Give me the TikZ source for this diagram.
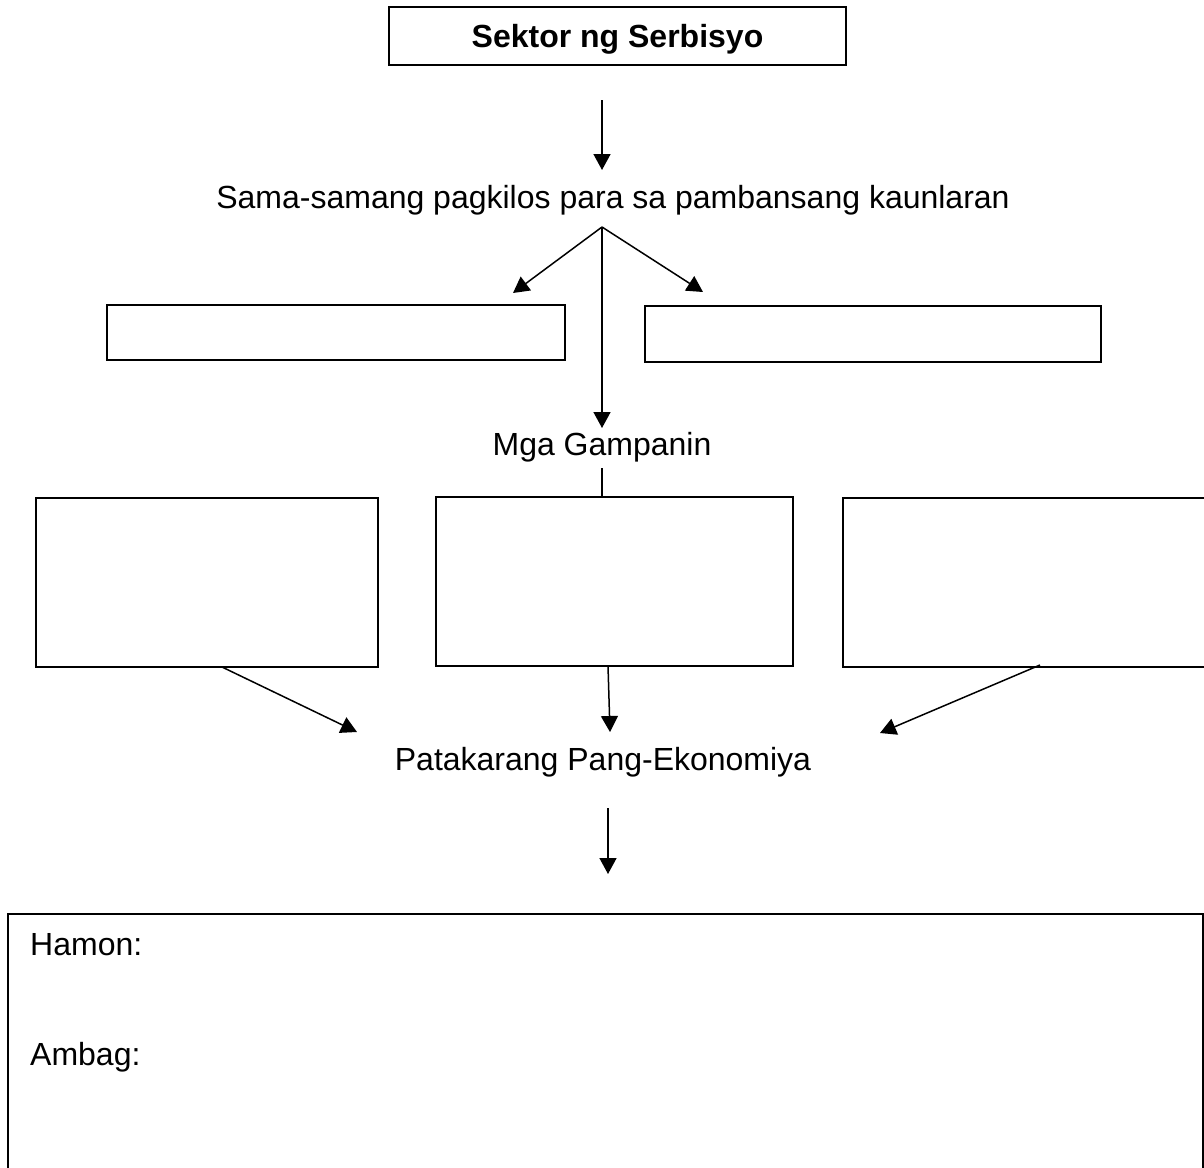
\documentclass[tikz,border=0pt]{standalone}
\usepackage{fontspec}
\setmainfont{Liberation Sans}
\usetikzlibrary{arrows.meta, positioning}

\begin{document}
\begin{tikzpicture}[x=1pt, y=-1pt,
    box/.style={draw, line width=1.5pt, inner sep=0pt},
    txt/.style={font=\fontsize{32}{38}\selectfont, inner sep=0pt},
    arr/.style={line width=1.5pt, -{Triangle[length=16pt, width=17pt]}}]
    \clip (0,0) rectangle (1204,1167);
    \fill[white] (0,0) rectangle (1204,1167);
    % pamagat
    \node[box, minimum width=457pt, minimum height=58pt, text height=23pt, text depth=0pt,
          font=\bfseries\fontsize{32}{38}\selectfont] (sektor) at (617.5,36) {Sektor ng Serbisyo};
    \coordinate (a1) at (602,100);
    \coordinate (a2) at (602,170);
    \node[txt, anchor=base] (sama) at (613,208) {Sama-samang pagkilos para sa pambansang kaunlaran};
    \coordinate (hati) at (602,227);
    \coordinate (hkaliwa) at (513,293);
    \coordinate (hkanan) at (703,292);
    \coordinate (hbaba) at (602,428);
    \node[box, minimum width=458pt, minimum height=55pt] (kaliwa) at (336,332.5) {};
    \node[box, minimum width=456pt, minimum height=56pt] (kanan) at (873,334) {};
    % mga gampanin
    \node[txt, anchor=base] (gampanin) at (602,455) {Mga Gampanin};
    \coordinate (b1) at (602,468);
    \node[box, minimum width=342pt, minimum height=169pt] (g1) at (207,582.5) {};
    \node[box, minimum width=357pt, minimum height=169pt] (g2) at (614.5,581.5) {};
    \node[box, minimum width=380pt, minimum height=169pt] (g3) at (1033,582.5) {};
    \coordinate (c1) at (222,667);
    \coordinate (c2) at (608,666);
    \coordinate (c3) at (1040,665);
    \coordinate (d1) at (357,732);
    \coordinate (d2) at (610,732);
    \coordinate (d3) at (880,733);
    % patakaran
    \node[txt, anchor=base] (patakaran) at (603,770) {Patakarang Pang-Ekonomiya};
    \coordinate (e1) at (608,808);
    \coordinate (e2) at (608,874);
    \node[box, minimum width=1195pt, minimum height=300pt] (hamon) at (605.5,1064) {};
    \node[txt, anchor=base west] (hamontxt) at (30,955) {Hamon:};
    \node[txt, anchor=base west] (ambag) at (30,1065) {Ambag:};

    \draw[arr] (a1) -- (a2);
    \draw[arr] (hati) -- (hkaliwa);
    \draw[arr] (hati) -- (hkanan);
    \draw[arr] (hati) -- (hbaba);
    \draw[line width=1.5pt] (b1) -- (b1 |- g2.north);
    \draw[arr] (c1) -- (d1);
    \draw[arr] (c2) -- (d2);
    \draw[arr] (c3) -- (d3);
    \draw[arr] (e1) -- (e2);
\end{tikzpicture}
\end{document}
